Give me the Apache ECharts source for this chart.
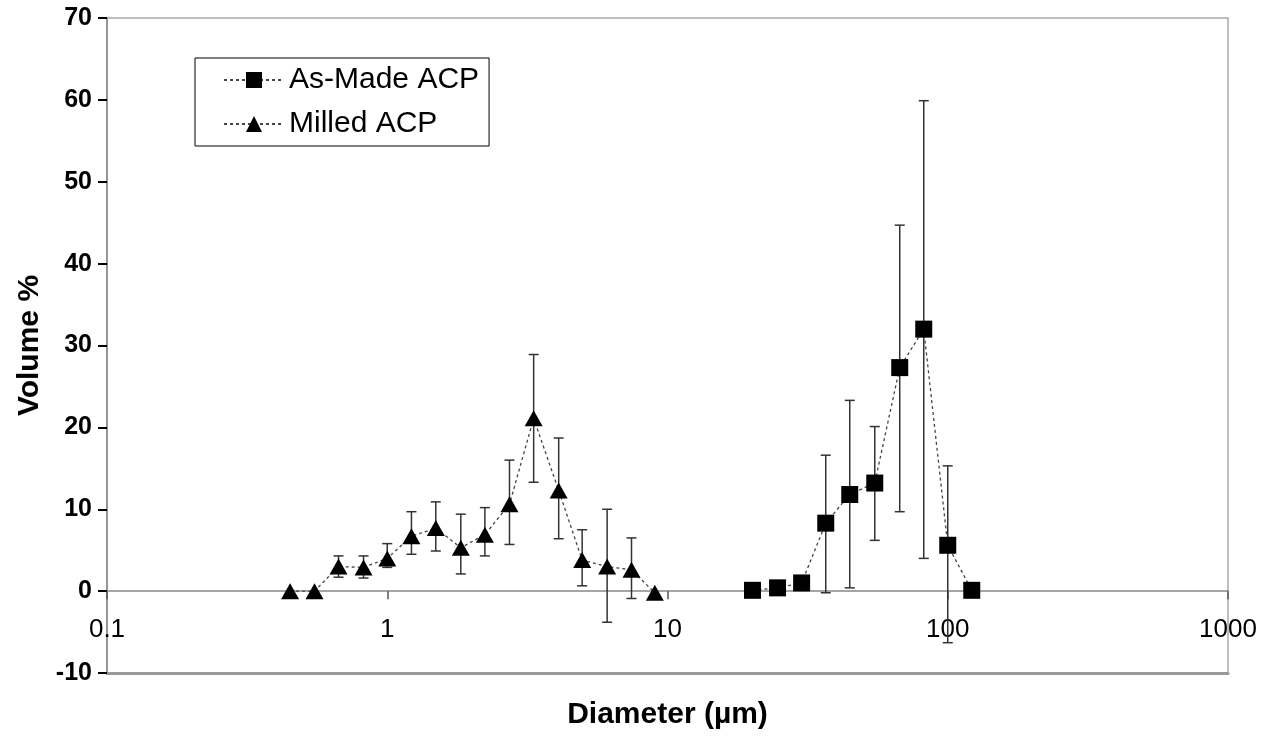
<!DOCTYPE html>
<html>
<head>
<meta charset="utf-8">
<title>Particle size distribution</title>
<script src="https://cdn.jsdelivr.net/npm/echarts@6/dist/echarts.min.js"></script>
<style>
  html, body { margin: 0; padding: 0; background: #fff; }
  #chart { width: 1280px; height: 737px; }
</style>
</head>
<body>
<div id="chart"></div>
<script>
// As-Made ACP: diameter (um), volume %, error bar low/high
var madeX    = [20.1, 24.7, 30.1, 36.7, 44.7, 54.9, 67.4, 82.1, 100, 121.8];
var madeY    = [0.1, 0.4, 1.0, 8.3, 11.8, 13.2, 27.3, 32.0, 5.6, 0.1];
var madeLow  = [null, null, null, -0.2, 0.4, 6.2, 9.7, 4.0, -6.3, null];
var madeHigh = [null, null, null, 16.6, 23.3, 20.1, 44.7, 59.9, 15.3, null];

// Milled ACP
var milledX    = [0.45, 0.55, 0.67, 0.823, 1.0, 1.22, 1.49, 1.83, 2.23, 2.73, 3.33, 4.09, 4.96, 6.09, 7.44, 9.01];
var milledY    = [0, 0, 3.0, 2.9, 4.0, 6.7, 7.7, 5.3, 6.9, 10.6, 21.1, 12.3, 3.8, 3.0, 2.6, -0.2];
var milledLow  = [null, null, 1.7, 1.6, 2.9, 4.5, 4.9, 2.1, 4.3, 5.7, 13.3, 6.4, 0.65, -3.8, -0.9, null];
var milledHigh = [null, null, 4.3, 4.3, 5.8, 9.7, 10.9, 9.4, 10.2, 16.0, 28.9, 18.7, 7.5, 10.0, 6.5, null];

function pairs(xs, ys) {
    return xs.map(function (x, i) { return [x, ys[i]]; });
}
function bars(xs, lo, hi) {
    var out = [];
    xs.forEach(function (x, i) {
        if (lo[i] !== null) out.push([x, lo[i], hi[i]]);
    });
    return out;
}

function renderErr(params, api) {
    var x = api.value(0);
    var p1 = api.coord([x, api.value(1)]);
    var p2 = api.coord([x, api.value(2)]);
    var cap = 5;
    var st = { stroke: '#333', lineWidth: 1.5 };
    return {
        type: 'group',
        children: [
            { type: 'line', shape: { x1: p1[0], y1: p1[1], x2: p2[0], y2: p2[1] }, style: st },
            { type: 'line', shape: { x1: p1[0] - cap, y1: p1[1], x2: p1[0] + cap, y2: p1[1] }, style: st },
            { type: 'line', shape: { x1: p2[0] - cap, y1: p2[1], x2: p2[0] + cap, y2: p2[1] }, style: st }
        ]
    };
}

var myChart = echarts.init(document.getElementById('chart'));
var font = '"Liberation Sans", Arial, sans-serif';

var option = {
    animation: false,
    textStyle: { fontFamily: font },
    grid: {
        left: 107, right: 52, top: 18, bottom: 64,
        show: true, borderColor: '#aaa', borderWidth: 1.5
    },
    legend: {
        left: 195, top: 58,
        orient: 'vertical',
        backgroundColor: '#fff',
        borderColor: '#000', borderWidth: 1,
        padding: [7, 10, 7, 28],
        itemWidth: 60, itemHeight: 20, itemGap: 14,
        textStyle: { fontSize: 30, color: '#000', fontFamily: font },
        data: ['As-Made ACP', 'Milled ACP']
    },
    xAxis: [{
        // zero line with ticks
        type: 'log', logBase: 10, min: 0.1, max: 1000,
        axisLine: { onZero: true, lineStyle: { color: '#888', width: 1.5 } },
        axisTick: { show: true, length: 8, lineStyle: { color: '#555', width: 1.5 } },
        minorTick: { show: false },
        splitLine: { show: false },
        axisLabel: { show: false }
    }, {
        // bottom edge, tick labels and name
        type: 'log', logBase: 10, min: 0.1, max: 1000,
        position: 'bottom',
        axisLine: { onZero: false, lineStyle: { color: '#999', width: 3 } },
        axisTick: { show: false },
        minorTick: { show: false },
        splitLine: { show: false },
        axisLabel: {
            color: '#000', fontSize: 26, margin: -56,
            formatter: function (v) { return String(+v.toPrecision(3)); }
        },
        name: 'Diameter (µm)',
        nameLocation: 'middle',
        nameGap: 27,
        nameTextStyle: { fontSize: 30, fontWeight: 'bold', color: '#000' }
    }],
    yAxis: {
        type: 'value', min: -10, max: 70, interval: 10,
        axisLine: { show: true, onZero: false, lineStyle: { color: '#888', width: 1.5 } },
        axisTick: { show: true, length: 9, lineStyle: { color: '#000', width: 2 } },
        splitLine: { show: false },
        axisLabel: { color: '#000', fontSize: 25, fontWeight: 'bold', margin: 15 },
        name: 'Volume %',
        nameLocation: 'middle',
        nameGap: 62,
        nameTextStyle: { fontSize: 30, fontWeight: 'bold', color: '#000' }
    },
    series: [{
        name: 'As-Made ACP',
        type: 'line',
        data: pairs(madeX, madeY),
        symbol: 'rect', symbolSize: 17,
        itemStyle: { color: '#000' },
        lineStyle: { color: '#444', width: 1.3, type: [3, 3] },
        z: 5
    }, {
        name: 'Milled ACP',
        type: 'line',
        data: pairs(milledX, milledY),
        symbol: 'triangle', symbolSize: [18, 16],
        itemStyle: { color: '#000' },
        lineStyle: { color: '#444', width: 1.3, type: [3, 3] },
        z: 5
    }, {
        type: 'custom',
        renderItem: renderErr,
        data: bars(madeX, madeLow, madeHigh),
        z: 3, silent: true
    }, {
        type: 'custom',
        renderItem: renderErr,
        data: bars(milledX, milledLow, milledHigh),
        z: 3, silent: true
    }]
};

myChart.setOption(option);
</script>
</body>
</html>
